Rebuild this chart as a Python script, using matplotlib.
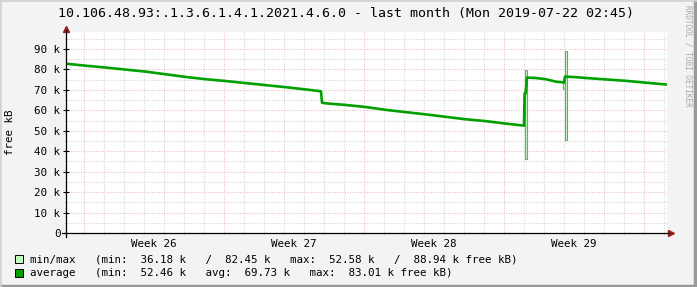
import matplotlib
matplotlib.use("Agg")
import matplotlib.pyplot as plt
from matplotlib.lines import Line2D

# days since start of graph (2019-06-22 02:45), average free memory in k
days = [0, 1, 2, 3, 4, 5, 6, 7, 8, 9, 10, 11, 12, 12.75,
        12.8, 13, 14, 15, 16, 17, 18, 19, 20, 21, 22, 22.9,
        22.93, 22.98, 23.05, 23.5, 24, 24.5, 24.9,
        24.95, 25.5, 26, 27, 28, 29, 30.05]
avg = [82.8, 81.8, 80.9, 79.9, 78.9, 77.6, 76.3, 75.2, 74.3, 73.3, 72.3, 71.3, 70.2, 69.3,
       63.7, 63.4, 62.6, 61.6, 60.2, 59.1, 58.0, 56.8, 55.6, 54.7, 53.5, 52.5,
       68.3, 68.3, 76.0, 75.8, 75.2, 74.0, 73.6,
       76.5, 76.2, 75.8, 75.1, 74.4, 73.5, 72.6]

# min/max spikes (start day, width in days, low, high)
spike_day = [22.93, 24.93, 24.83]
spike_w = [0.12, 0.12, 0.10]
spike_lo = [36.18, 45.5, 70.3]
spike_hi = [79.7, 88.94, 73.6]

first_sunday = 0.8854  # 2019-06-23 00:00
week_labels = ["Week 26", "Week 27", "Week 28", "Week 29"]
yticks = [0, 10, 20, 30, 40, 50, 60, 70, 80, 90]
ytick_labels = ["0"] + ["%d k" % v for v in yticks[1:]]

mono = "DejaVu Sans Mono"
plt.rcParams["font.family"] = mono
fs = 7.8

fig = plt.figure(figsize=(6.97, 2.87), dpi=100, facecolor="#f3f3f3")
ax = fig.add_axes([66 / 697, 54 / 287, 601 / 697, 201 / 287])
ax.set_facecolor("white")
ax.set_xlim(0, 30.05)
ax.set_ylim(0, 98.3)

dots = (0, (0.7, 1.5))
# grid
for k in range(31):
    d = first_sunday + k
    if d > 30.05:
        break
    if k % 7 == 0:
        ax.axvline(d, color="#e8a8a8", lw=0.8, ls=dots, zorder=1)
    else:
        ax.axvline(d, color="#c8c8c8", lw=0.8, ls=dots, zorder=1)
for v in range(5, 100, 5):
    if v % 10 == 0:
        ax.axhline(v, color="#e8a8a8", lw=0.8, ls=dots, zorder=1)
    else:
        ax.axhline(v, color="#c8c8c8", lw=0.8, ls=dots, zorder=1)

# min/max band
for d, w, lo, hi in zip(spike_day, spike_w, spike_lo, spike_hi):
    ax.bar(d, hi - lo, width=w, bottom=lo, align="edge",
           color="#c0ffc0", edgecolor="#909090", lw=0.8, zorder=3)
# average
ax.plot(days, avg, color="#00a000", lw=1.9, zorder=4)

for s in ax.spines.values():
    s.set_visible(False)

ax.set_yticks(yticks)
ax.set_yticklabels(ytick_labels)
ax.set_yticks(range(5, 100, 10), minor=True)
ax.tick_params(axis="y", which="major", direction="inout", length=4, width=0.8,
               pad=2, labelsize=fs)
ax.tick_params(axis="y", which="minor", direction="inout", length=2, width=0.6,
               color="#b0b0b0")

ax.set_xticks([first_sunday + 3.5 + 7 * i for i in range(4)])
ax.set_xticklabels(week_labels)
ax.set_xticks([first_sunday + k for k in range(30)], minor=True)
ax.tick_params(axis="x", which="major", length=0, pad=4, labelsize=fs)
ax.tick_params(axis="x", which="minor", direction="inout", length=2, width=0.6,
               color="#c0a0a0")

# axes with arrows
tr = ax.transAxes
ax.add_line(Line2D([-4 / 601, 1.004], [0, 0], transform=tr, color="black",
                   lw=0.9, clip_on=False, zorder=5))
ax.add_line(Line2D([0, 0], [-4 / 201, 1.012], transform=tr, color="black",
                   lw=0.9, clip_on=False, zorder=5))
ax.plot([1.006], [0], marker=">", ms=4, color="#9b1c1c", transform=tr, clip_on=False)
ax.plot([0], [1.014], marker="^", ms=4, color="#9b1c1c", transform=tr, clip_on=False)

fig.text(10.5 / 697, 1 - 132 / 287, "free kB", rotation=90,
         ha="center", va="center", fontsize=fs)

fig.text(346 / 697, 1 - 14 / 287,
         "10.106.48.93:.1.3.6.1.4.1.2021.4.6.0 - last month (Mon 2019-07-22 02:45)",
         ha="center", va="center", fontsize=9.5)
fig.text(688 / 697, 1 - 5 / 287, "RRDTOOL / TOBI OETIKER", rotation=270,
         ha="center", va="top", fontsize=5.5, color="#a8a8a8")

# legend
rows = [("#c0ffc0", "min/max   (min:  36.18 k   /  82.45 k   max:  52.58 k   /  88.94 k free kB)"),
        ("#00a000", "average   (min:  52.46 k   avg:  69.73 k   max:  83.01 k free kB)")]
for i, (col, txt) in enumerate(rows):
    yc = 259 + 13.5 * i
    fig.patches.append(plt.Rectangle((15 / 697, 1 - (yc + 4) / 287), 8 / 697, 8 / 287,
                                     transform=fig.transFigure, facecolor=col,
                                     edgecolor="black", lw=0.7))
    fig.text(30 / 697, 1 - yc / 287, txt, ha="left", va="center", fontsize=fs)

# 3d frame
ft = fig.transFigure
fig.add_artist(Line2D([0, 1], [0.004, 0.004], transform=ft, color="#999999", lw=2.5))
fig.add_artist(Line2D([0.997, 0.997], [0, 1], transform=ft, color="#999999", lw=2.5))
fig.add_artist(Line2D([0, 1], [0.998, 0.998], transform=ft, color="#d0d0d0", lw=1.2))
fig.add_artist(Line2D([0.001, 0.001], [0, 1], transform=ft, color="#d0d0d0", lw=1.2))

fig.savefig("out.png", dpi=100, facecolor=fig.get_facecolor())
